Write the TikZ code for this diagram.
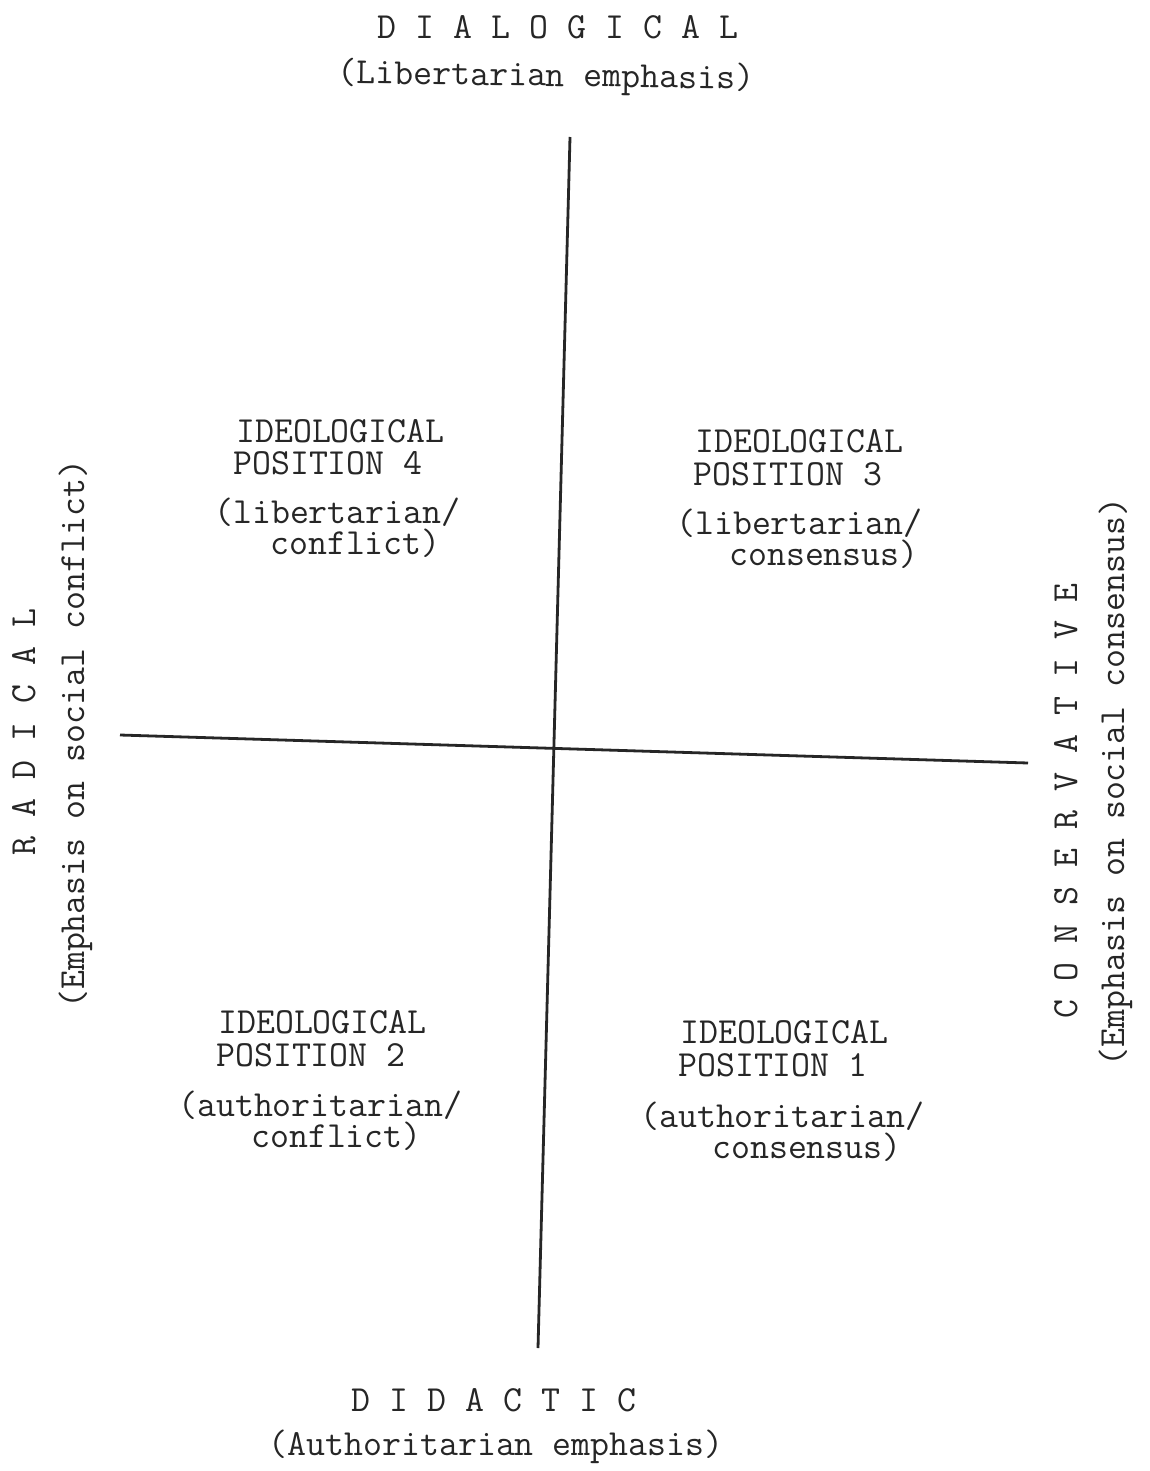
\documentclass[tikz,border=0pt]{standalone}
\usepackage{fontspec}
\begin{document}
\begin{tikzpicture}[x=1pt,y=-1pt,
  tx/.style={font=\ttfamily\fontsize{36.8}{40}\selectfont, inner sep=0pt, text=black!85,
             text height=0.62em, text depth=0.08em},
  lw/.style={tx, anchor=mid west},
  cw/.style={tx, anchor=mid},
  pair/.style={font=\ttfamily\fontsize{36.8}{31}\selectfont, inner sep=0pt, text=black!85,
               align=left, anchor=base west},
  axis/.style={line width=2.8pt, black!85}]
\useasboundingbox[fill=white] (0,0) rectangle (1149,1471);
% axes
\coordinate (vtop) at (570,137);
\coordinate (vbot) at (538,1348);
\coordinate (hleft) at (120,735);
\coordinate (hright) at (1028,763);
\draw[axis] (vtop) -- (vbot);
\draw[axis] (hleft) -- (hright);
% top / bottom labels
\node[cw] (dial) at (558,36) {D I A L O G I C A L};
\node[cw, rotate=-0.8] (libem) at (546,84) {(Libertarian emphasis)};
\node[cw] (did) at (494,1409) {D I D A C T I C};
\node[cw] (authem) at (496,1453) {(Authoritarian emphasis)};
% side labels
\node[cw, rotate=90] (rad) at (33,732) {R A D I C A L};
\node[cw, rotate=90] (radem) at (82,734) {(Emphasis on social conflict)};
\node[cw, rotate=90] (cons) at (1075,801) {C O N S E R V A T I V E};
\node[cw, rotate=90] (consem) at (1122,782) {(Emphasis on social consensus)};
% quadrant 4
\node[lw] (q4a) at (236,440) {IDEOLOGICAL};
\node[lw] (q4b) at (233,472) {POSITION 4};
\node[pair] (q4c) at (214,554) {(libertarian/\\\hspace*{56pt}conflict)};
% quadrant 3
\node[lw] (q3a) at (695,450) {IDEOLOGICAL};
\node[lw] (q3b) at (693,483) {POSITION 3};
\node[pair] (q3c) at (676,565) {(libertarian/\\\hspace*{53pt}consensus)};
% quadrant 2
\node[lw] (q2a) at (218,1031) {IDEOLOGICAL};
\node[lw] (q2b) at (216,1064) {POSITION 2};
\node[pair] (q2c) at (178,1147) {(authoritarian/\\\hspace*{73pt}conflict)};
% quadrant 1
\node[lw] (q1a) at (680,1041) {IDEOLOGICAL};
\node[lw] (q1b) at (678,1074) {POSITION 1};
\node[pair] (q1c) at (640,1158) {(authoritarian/\\\hspace*{72pt}consensus)};
\end{tikzpicture}
\end{document}
